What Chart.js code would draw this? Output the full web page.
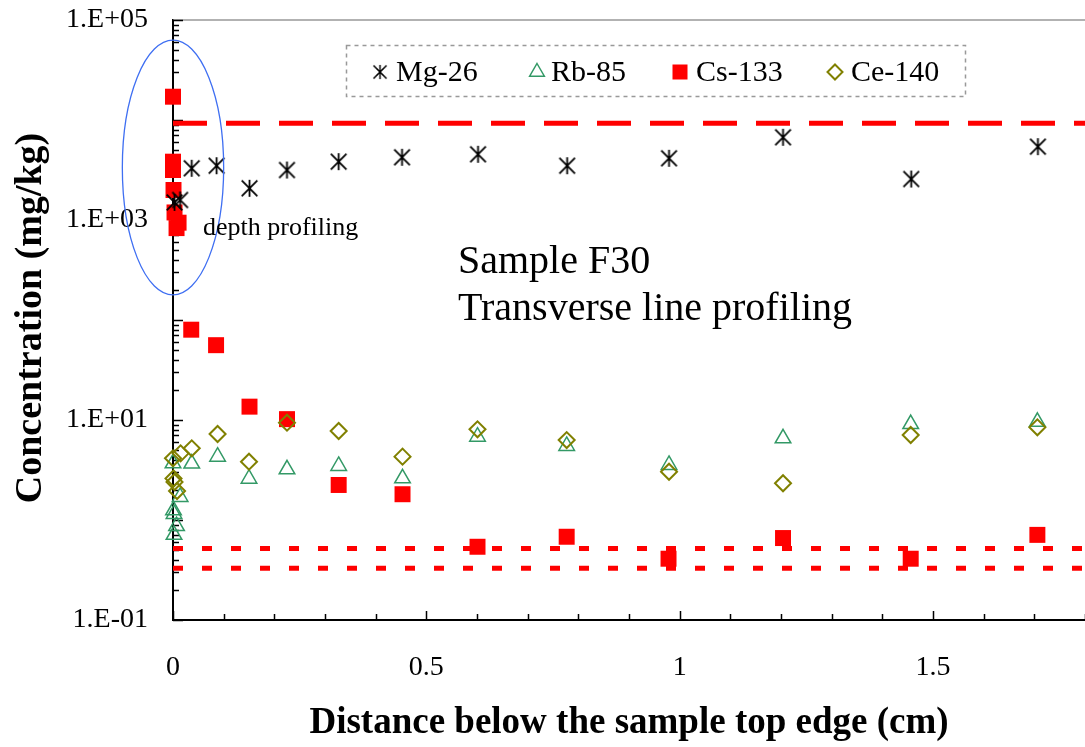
<!DOCTYPE html>
<html>
<head>
<meta charset="utf-8">
<script src="https://cdn.jsdelivr.net/npm/chart.js@4.4.0/dist/chart.umd.min.js"></script>
<style>
  html, body { margin: 0; padding: 0; background: #fff; }
  #chart { display: block; }
</style>
</head>
<body>
<canvas id="chart" width="1085" height="747"></canvas>
<script>
// values (x in cm, y in mg/kg)
const mgX = [0.003, 0.014, 0.037, 0.086, 0.151, 0.225, 0.327, 0.452, 0.602, 0.778, 0.979, 1.204, 1.457, 1.707];
const mgY = [1500, 1585, 3290, 3490, 2075, 3162, 3830, 4236, 4540, 3490, 4140, 6714, 2570, 5410];

const rbX = [0.0, 0.014, 0.001, 0.002, 0.007, 0.002, 0.037, 0.088, 0.150, 0.225, 0.327, 0.453, 0.601, 0.777, 0.979, 1.204, 1.456, 1.706];
const rbY = [3.69, 1.70, 1.25, 1.15, 0.87, 0.71, 3.67, 4.3, 2.59, 3.21, 3.47, 2.61, 6.8, 5.5, 3.55, 6.56, 9.1, 9.6];

const csX = [0.0, 0.0, 0.0, 0.001, 0.003, 0.011, 0.007, 0.036, 0.085, 0.151, 0.225, 0.327, 0.453, 0.601, 0.777, 0.978, 1.204, 1.456, 1.706];
const csY = [17100, 3830, 3160, 1995, 1190, 940, 830, 80, 56, 13.6, 10.2, 2.24, 1.81, 0.54, 0.68, 0.41, 0.66, 0.41, 0.71];

const ceX = [0.0, 0.015, 0.037, 0.088, 0.150, 0.225, 0.327, 0.453, 0.601, 0.777, 0.979, 1.204, 1.456, 1.706, 0.001, 0.003, 0.008];
const ceY = [4.14, 4.64, 5.21, 7.24, 3.83, 9.4, 7.76, 4.3, 8.07, 6.3, 3.04, 2.33, 7.08, 8.45, 2.6, 2.4, 1.95];

// horizontal reference levels for Cs
const csDashedLevel = 9300;
const csDottedLevels = [0.52, 0.33];

const seriesNames = ['Mg-26', 'Rb-85', 'Cs-133', 'Ce-140'];
const xLabelValues = [0, 0.5, 1, 1.5];
const xTickLabels = ['0', '0.5', '1', '1.5'];
const yLabelValues = [0.1, 10, 1000, 100000];
const yTickLabels = ['1.E-01', '1.E+01', '1.E+03', '1.E+05'];

const serif = "'Liberation Serif', 'Times New Roman', serif";

function pts(xs, ys) { return xs.map((x, i) => ({x: x, y: ys[i]})); }

function makeAsterisk(size, lw) {
  const c = document.createElement('canvas');
  c.width = size; c.height = size;
  const g = c.getContext('2d');
  g.strokeStyle = '#000';
  g.lineWidth = lw;
  const m = size / 2, r = size / 2 - 1, d = r * 0.92;
  g.beginPath();
  g.moveTo(m, m - r); g.lineTo(m, m + r);
  g.moveTo(m - d, m - d); g.lineTo(m + d, m + d);
  g.moveTo(m + d, m - d); g.lineTo(m - d, m + d);
  g.stroke();
  return c;
}
const asterisk = makeAsterisk(19, 1.8);

const rbColor = '#339966';
const csColor = '#ff0000';
const ceColor = '#808000';

function near(a, b) { return Math.abs(a - b) <= 1e-9 * Math.max(1, Math.abs(b)); }

function refLine(level, dash, order) {
  return {
    data: [{x: 0, y: level}, {x: 1.8, y: level}],
    showLine: true, pointRadius: 0, borderColor: csColor, borderWidth: 5,
    borderDash: dash, borderCapStyle: 'butt', order: order, clip: false
  };
}

function drawMarker(ctx, kind, x, y) {
  ctx.save();
  if (kind === 0) {
    ctx.drawImage(asterisk, x - 8, y - 8, 16, 16);
  } else if (kind === 1) {
    const r = 8.5;
    ctx.strokeStyle = rbColor; ctx.lineWidth = 1.5;
    ctx.beginPath();
    ctx.moveTo(x, y - r);
    ctx.lineTo(x + r * 0.866, y + r / 2);
    ctx.lineTo(x - r * 0.866, y + r / 2);
    ctx.closePath(); ctx.stroke();
  } else if (kind === 2) {
    ctx.fillStyle = csColor;
    ctx.fillRect(x - 7.5, y - 7.5, 15, 15);
  } else {
    const r = 7.5;
    ctx.strokeStyle = ceColor; ctx.lineWidth = 2;
    ctx.beginPath();
    ctx.moveTo(x, y - r); ctx.lineTo(x + r, y); ctx.lineTo(x, y + r); ctx.lineTo(x - r, y);
    ctx.closePath(); ctx.stroke();
  }
  ctx.restore();
}

const decor = {
  id: 'decor',
  beforeDatasetsDraw(chart) {
    const {ctx, chartArea: a, scales: {x, y}} = chart;
    ctx.save();
    // thin grey frame on top of the plot
    ctx.strokeStyle = '#999';
    ctx.lineWidth = 1.5;
    ctx.beginPath();
    ctx.moveTo(a.left, a.top);
    ctx.lineTo(a.right, a.top);
    ctx.stroke();
    // inward tick marks
    ctx.strokeStyle = '#000';
    ctx.lineWidth = 1.5;
    ctx.beginPath();
    y.ticks.forEach(t => {
      const py = Math.round(y.getPixelForValue(t.value)) + 0.5;
      const lg = Math.log10(t.value);
      const len = near(lg, Math.round(lg)) ? 10 : 6;
      ctx.moveTo(a.left, py);
      ctx.lineTo(a.left + len, py);
    });
    x.ticks.forEach(t => {
      const px = Math.round(x.getPixelForValue(t.value)) + 0.5;
      const len = near(t.value * 2, Math.round(t.value * 2)) ? 9 : 6;
      ctx.moveTo(px, a.bottom);
      ctx.lineTo(px, a.bottom - len);
    });
    ctx.stroke();
    ctx.restore();
  },
  afterDraw(chart) {
    const {ctx, chartArea: a, scales: {x, y}} = chart;
    ctx.save();

    // ellipse around the depth profiling points
    const cx = x.getPixelForValue(0);
    const top = y.getPixelForValue(63000);
    const bottom = y.getPixelForValue(178);
    const rx = x.getPixelForValue(0.1) - cx;
    ctx.strokeStyle = '#3f6ff2';
    ctx.lineWidth = 1.3;
    ctx.beginPath();
    ctx.ellipse(cx, (top + bottom) / 2, rx, (bottom - top) / 2, 0, 0, Math.PI * 2);
    ctx.stroke();

    // annotations
    ctx.fillStyle = '#000';
    ctx.textBaseline = 'alphabetic';
    ctx.textAlign = 'left';
    ctx.font = '26px ' + serif;
    ctx.fillText('depth profiling', 203, 235);
    ctx.font = '40px ' + serif;
    ctx.fillText('Sample F30', 458, 273);
    ctx.fillText('Transverse line profiling', 458, 320);

    // legend box
    ctx.strokeStyle = '#999';
    ctx.lineWidth = 1.5;
    ctx.setLineDash([4, 4]);
    ctx.strokeRect(346.5, 45.5, 619, 51);
    ctx.setLineDash([]);
    const markX = [380, 537, 680, 835];
    const textX = [396, 551, 696, 851];
    ctx.font = '30px ' + serif;
    seriesNames.forEach((n, i) => {
      drawMarker(ctx, i, markX[i], 72);
      ctx.fillStyle = '#000';
      ctx.fillText(n, textX[i], 81);
    });

    // axis titles
    ctx.font = 'bold 37px ' + serif;
    ctx.textAlign = 'center';
    ctx.fillText('Distance below the sample top edge (cm)', (a.left + a.right) / 2, 733);
    ctx.save();
    ctx.translate(41, (a.top + a.bottom) / 2 - 2);
    ctx.rotate(-Math.PI / 2);
    ctx.font = 'bold 38px ' + serif;
    ctx.fillText('Concentration (mg/kg)', 0, 0);
    ctx.restore();

    ctx.restore();
  }
};

const ctx = document.getElementById('chart').getContext('2d');
new Chart(ctx, {
  type: 'scatter',
  data: {
    datasets: [
      {label: seriesNames[0], data: pts(mgX, mgY), pointStyle: asterisk, pointRadius: 9, order: 1, clip: false},
      {label: seriesNames[1], data: pts(rbX, rbY), pointStyle: 'triangle', pointRadius: 9,
        borderColor: rbColor, borderWidth: 1.5, backgroundColor: 'rgba(0,0,0,0)', order: 2, clip: false},
      {label: seriesNames[2], data: pts(csX, csY), pointStyle: 'rect', pointRadius: 11.3,
        borderColor: csColor, borderWidth: 0, backgroundColor: csColor, order: 3, clip: false},
      {label: seriesNames[3], data: pts(ceX, ceY), pointStyle: 'rectRot', pointRadius: 8,
        borderColor: ceColor, borderWidth: 2, backgroundColor: 'rgba(0,0,0,0)', order: 0, clip: false},
      refLine(csDashedLevel, [34, 19], 5),
      refLine(csDottedLevels[0], [10, 19], 6),
      refLine(csDottedLevels[1], [10, 19], 7)
    ]
  },
  options: {
    responsive: false,
    animation: false,
    events: [],
    layout: {autoPadding: false, padding: {left: 0, top: 20, right: 0, bottom: 0}},
    plugins: {
      legend: {display: false},
      tooltip: {enabled: false}
    },
    scales: {
      x: {
        type: 'linear',
        min: 0,
        max: 1.8,
        afterFit: s => {
          s.height = 127;
          s.paddingLeft = 0; s.paddingRight = 0; s.paddingTop = 0; s.paddingBottom = 0;
        },
        afterBuildTicks: s => {
          const t = [];
          for (let i = 0; i <= 18; i++) t.push({value: i / 10});
          s.ticks = t;
        },
        grid: {display: false, drawTicks: false},
        border: {display: true, color: '#000', width: 2},
        ticks: {
          autoSkip: false,
          maxRotation: 0,
          padding: 0,
          color: '#000',
          font: {family: serif, size: 28, lineHeight: 3.41},
          callback: v => {
            const k = xLabelValues.findIndex(l => near(v, l));
            return k >= 0 ? xTickLabels[k] : '';
          }
        }
      },
      y: {
        type: 'logarithmic',
        min: 0.1,
        max: 100000,
        afterFit: s => {
          s.width = 173;
          s.paddingLeft = 0; s.paddingRight = 0; s.paddingTop = 0; s.paddingBottom = 0;
        },
        afterBuildTicks: s => {
          const t = [];
          for (let e = -1; e <= 4; e++) {
            for (let m = 1; m <= 9; m++) t.push({value: Number((m * Math.pow(10, e)).toPrecision(3))});
          }
          t.push({value: 100000});
          s.ticks = t;
        },
        grid: {display: false, drawTicks: false},
        border: {display: true, color: '#000', width: 2},
        ticks: {
          autoSkip: false,
          padding: 25,
          color: '#000',
          font: {family: serif, size: 28},
          callback: v => {
            const k = yLabelValues.findIndex(l => near(v, l));
            return k >= 0 ? yTickLabels[k] : '';
          }
        }
      }
    }
  },
  plugins: [decor]
});
</script>
</body>
</html>
